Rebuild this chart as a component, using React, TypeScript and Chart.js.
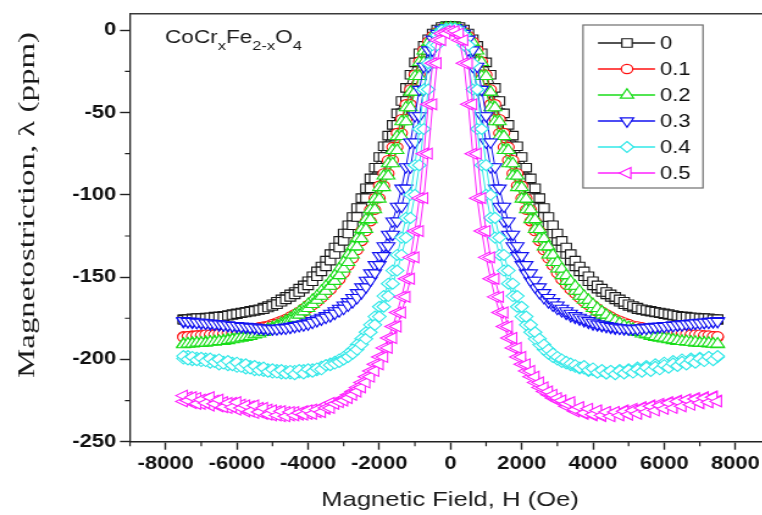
import React, { useEffect, useRef } from 'react';
import { Chart, registerables } from 'chart.js';

Chart.register(...registerables);

// ---------------- data ----------------
// applied field H (Oe), ascending
const H = [
  -7500, -7375, -7250, -7125, -7000, -6875, -6750, -6625, -6500, -6375, -6250, -6125, -6000, -5875, -5750, -5625,
  -5500, -5375, -5250, -5125, -5000, -4875, -4750, -4625, -4500, -4375, -4250, -4125, -4000, -3875, -3750, -3625,
  -3500, -3375, -3250, -3125, -3000, -2875, -2750, -2625, -2500, -2375, -2250, -2125, -2000, -1875, -1750, -1625,
  -1500, -1375, -1250, -1125, -1000, -875, -750, -625, -500, -375, -250, -125, 0,
  125, 250, 375, 500, 625, 750, 875, 1000, 1125, 1250, 1375, 1500, 1625, 1750, 1875, 2000,
  2125, 2250, 2375, 2500, 2625, 2750, 2875, 3000, 3125, 3250, 3375, 3500, 3625, 3750, 3875, 4000,
  4125, 4250, 4375, 4500, 4625, 4750, 4875, 5000, 5125, 5250, 5375, 5500, 5625, 5750, 5875, 6000,
  6125, 6250, 6375, 6500, 6625, 6750, 6875, 7000, 7125, 7250, 7375, 7500,
];

const seriesLabels = ['0', '0.1', '0.2', '0.3', '0.4', '0.5'];

// "Up" = branch measured with increasing H, "Down" = decreasing H; both listed for H ascending.
const s0Up = [
  -176, -175.5, -175.5, -175, -175, -175, -174.5, -174.5, -174, -174, -173.5, -173, -172.5, -172, -171.5, -171, -170.5, -170, -169.5, -168.5,
  -167.5, -166.5, -165, -163.5, -162, -160.5, -159, -157, -155, -152.5, -149.5, -146.5, -143.5, -140, -136, -132, -128, -123.5, -118.5, -113.5,
  -108, -102, -96, -90, -83.5, -77, -70.5, -64, -57.5, -50.5, -43, -35, -27, -19.5, -14, -9.5, -5.5, -2, 0.5, 2, 2.5,
  2.5, 2, 0.5, -2, -5.5, -9.5, -14, -19.5, -27, -35, -43, -50.5, -57.5, -64, -70.5, -77, -83.5, -90, -96, -102,
  -108, -113.5, -118.5, -123.5, -128, -132, -136, -140, -143.5, -146.5, -149.5, -152.5, -155, -157, -159, -160.5, -162, -163.5, -165, -166.5,
  -167.5, -168.5, -169.5, -170, -170.5, -171, -171.5, -172, -172.5, -173, -173.5, -174, -174, -174.5, -174.5, -175, -175, -175, -175.5, -175.5,
];
const s0Down = [
  -175.5, -175.5, -175, -175, -175, -174.5, -174.5, -174, -174, -173.5, -173, -172.5, -172, -171.5, -171, -170.5, -170, -169.5, -168.5, -167.5,
  -166.5, -165, -163.5, -162, -160.5, -159, -157, -155, -152.5, -149.5, -146.5, -143.5, -140, -136, -132, -128, -123.5, -118.5, -113.5, -108,
  -102, -96, -90, -83.5, -77, -70.5, -64, -57.5, -50.5, -43, -35, -27, -19.5, -14, -9.5, -5.5, -2, 0.5, 2, 2.5,
  2.5, 2, 0.5, -2, -5.5, -9.5, -14, -19.5, -27, -35, -43, -50.5, -57.5, -64, -70.5, -77, -83.5, -90, -96, -102,
  -108, -113.5, -118.5, -123.5, -128, -132, -136, -140, -143.5, -146.5, -149.5, -152.5, -155, -157, -159, -160.5, -162, -163.5, -165, -166.5,
  -167.5, -168.5, -169.5, -170, -170.5, -171, -171.5, -172, -172.5, -173, -173.5, -174, -174, -174.5, -174.5, -175, -175, -175, -175.5, -175.5, -176,
];

const s1Up = [
  -186.5, -186, -186, -185.5, -185.5, -185, -185, -185, -184.5, -184.5, -184,
  -184, -183.5, -183, -182.5, -182, -181.5, -181, -180.5, -180, -179.5,
  -178.5, -177.5, -176.5, -175.5, -174, -172.5, -171, -169, -167, -165,
  -162.5, -160, -157.5, -154.5, -151.5, -147.5, -143, -138.5, -133.5, -128,
  -122, -116, -109, -102, -94.5, -87, -79, -71, -62.5, -54,
  -45, -36, -27, -19, -12, -7, -3.5, -1, 1, 1.5,
  1.5, 1, -1, -3.5, -7, -12, -19, -27, -36, -45,
  -54, -62.5, -71, -79, -87, -94.5, -102, -109, -116, -122,
  -128, -133.5, -138.5, -143, -147.5, -151.5, -154.5, -157.5, -160, -162.5,
  -165, -167, -169, -171, -172.5, -174, -175.5, -176.5, -177.5, -178.5,
  -179.5, -180, -180.5, -181, -181.5, -182, -182.5, -183, -183.5, -184,
  -184, -184.5, -184.5, -185, -185, -185, -185.5, -185.5, -186, -186,
];
const s1Down = [
  -186, -186, -185.5, -185.5, -185, -185, -185, -184.5, -184.5, -184,
  -184, -183.5, -183, -182.5, -182, -181.5, -181, -180.5, -180, -179.5,
  -178.5, -177.5, -176.5, -175.5, -174, -172.5, -171, -169, -167, -165,
  -162.5, -160, -157.5, -154.5, -151.5, -147.5, -143, -138.5, -133.5, -128,
  -122, -116, -109, -102, -94.5, -87, -79, -71, -62.5, -54,
  -45, -36, -27, -19, -12, -7, -3.5, -1, 1, 1.5,
  1.5, 1, -1, -3.5, -7, -12, -19, -27, -36, -45,
  -54, -62.5, -71, -79, -87, -94.5, -102, -109, -116, -122,
  -128, -133.5, -138.5, -143, -147.5, -151.5, -154.5, -157.5, -160, -162.5,
  -165, -167, -169, -171, -172.5, -174, -175.5, -176.5, -177.5, -178.5,
  -179.5, -180, -180.5, -181, -181.5, -182, -182.5, -183, -183.5, -184,
  -184, -184.5, -184.5, -185, -185, -185, -185.5, -185.5, -186, -186, -186.5,
];

const s2Up = [
  -191, -190.5, -190.5, -190, -190, -190, -189.5, -189.5, -189, -189, -188.5, -188, -187.5, -187, -186.5, -186, -185, -184.5, -183.5, -182.5,
  -181.5, -180.5, -179.5, -178, -176.5, -175, -173, -171, -169, -166.5, -164, -161.5, -158.5, -155.5, -152.5, -149, -145, -141, -136.5, -131.5,
  -126.5, -121, -115, -109, -102.5, -95.5, -88.5, -81, -73, -64.5, -55.5, -47, -37.5, -28, -19.5, -12.5, -7.5, -3.5, -1, 1, 1.5,
  1.5, 1, -1, -3.5, -7.5, -12.5, -19.5, -28, -37.5, -47, -55.5, -64.5, -73, -81, -88.5, -95.5, -102.5, -109, -115, -121,
  -126.5, -131.5, -136.5, -141, -145, -149, -152.5, -155.5, -158.5, -161.5, -164, -166.5, -169, -171, -173, -175, -176.5, -178, -179.5, -180.5,
  -181.5, -182.5, -183.5, -184.5, -185, -186, -186.5, -187, -187.5, -188, -188.5, -189, -189, -189.5, -189.5, -190, -190, -190, -190.5, -190.5,
];
const s2Down = [
  -190.5, -190.5, -190, -190, -190, -189.5, -189.5, -189, -189, -188.5, -188, -187.5, -187, -186.5, -186, -185, -184.5, -183.5, -182.5, -181.5,
  -180.5, -179.5, -178, -176.5, -175, -173, -171, -169, -166.5, -164, -161.5, -158.5, -155.5, -152.5, -149, -145, -141, -136.5, -131.5, -126.5,
  -121, -115, -109, -102.5, -95.5, -88.5, -81, -73, -64.5, -55.5, -47, -37.5, -28, -19.5, -12.5, -7.5, -3.5, -1, 1, 1.5,
  1.5, 1, -1, -3.5, -7.5, -12.5, -19.5, -28, -37.5, -47, -55.5, -64.5, -73, -81, -88.5, -95.5, -102.5, -109, -115, -121,
  -126.5, -131.5, -136.5, -141, -145, -149, -152.5, -155.5, -158.5, -161.5, -164, -166.5, -169, -171, -173, -175, -176.5, -178, -179.5, -180.5,
  -181.5, -182.5, -183.5, -184.5, -185, -186, -186.5, -187, -187.5, -188, -188.5, -189, -189, -189.5, -189.5, -190, -190, -190, -190.5, -190.5, -191,
];

const s3Up = [
  -176.5, -177, -177, -177.5, -177.5, -178, -178, -178.5, -178.5, -179, -179,
  -179.5, -179.5, -180, -180, -180.5, -180.5, -181, -181, -181.5, -181.5,
  -181.5, -181, -181, -180.5, -180, -179.5, -179, -178.5, -177.5, -176.5,
  -175.5, -174.5, -173.5, -172, -170.5, -169, -167, -165, -162.5, -159.5,
  -156, -152, -147.5, -142.5, -137, -131, -124, -116, -107, -96,
  -83, -68, -52, -36, -22, -12, -5.5, -2, 0.5, 1.5,
  1.5, 0.5, -2, -5.5, -12, -22, -36, -52, -68, -83,
  -96, -107, -116, -124, -131, -137, -142.5, -147.5, -152, -156,
  -159.5, -162.5, -165, -167, -169, -170.5, -172, -173.5, -174.5, -175.5,
  -176.5, -177.5, -178.5, -179, -179.5, -180, -180.5, -181, -181, -181.5,
  -181.5, -181.5, -181, -181, -180.5, -180.5, -180, -180, -179.5, -179.5,
  -179, -179, -178.5, -178.5, -178, -178, -177.5, -177.5, -177, -177,
];
const s3Down = [
  -177, -177, -177.5, -177.5, -178, -178, -178.5, -178.5, -179, -179,
  -179.5, -179.5, -180, -180, -180.5, -180.5, -181, -181, -181.5, -181.5,
  -181.5, -181, -181, -180.5, -180, -179.5, -179, -178.5, -177.5, -176.5,
  -175.5, -174.5, -173.5, -172, -170.5, -169, -167, -165, -162.5, -159.5,
  -156, -152, -147.5, -142.5, -137, -131, -124, -116, -107, -96,
  -83, -68, -52, -36, -22, -12, -5.5, -2, 0.5, 1.5,
  1.5, 0.5, -2, -5.5, -12, -22, -36, -52, -68, -83,
  -96, -107, -116, -124, -131, -137, -142.5, -147.5, -152, -156,
  -159.5, -162.5, -165, -167, -169, -170.5, -172, -173.5, -174.5, -175.5,
  -176.5, -177.5, -178.5, -179, -179.5, -180, -180.5, -181, -181, -181.5,
  -181.5, -181.5, -181, -181, -180.5, -180.5, -180, -180, -179.5, -179.5,
  -179, -179, -178.5, -178.5, -178, -178, -177.5, -177.5, -177, -177, -176.5,
];

const s4Up = [
  -198, -200, -198.5, -200.5, -199, -201, -199.5, -201.5, -200, -202.5, -201, -203.5, -202, -204.5, -203, -205.5, -204, -206.5, -205, -207.5,
  -206, -208, -206.5, -208.5, -207, -209, -206.5, -208.5, -206, -207.5, -205.5, -206, -203.5,
  -203.5, -202.5, -201.5, -200, -198.5, -196.5, -194, -191, -187.5, -183.5, -179, -174, -168, -161.5, -154, -146, -136.5, -126, -114, -100,
  -82, -60, -36, -20, -9, -3, 0, 1,
  1, 0, -3, -9, -20, -36, -60, -82, -100, -114, -126, -136.5, -146, -154, -161.5, -168, -174, -179, -183.5, -187.5,
  -191, -194, -196.5, -198.5, -200, -201.5, -202.5, -203.5,
  -205, -204, -206.5, -205.5, -208, -206.5, -208.5, -207, -209, -207, -208.5, -206.5, -208, -206, -207.5, -205, -207, -204.5, -206, -203.5,
  -205, -202.5, -204, -201.5, -203, -200.5, -202, -199.5, -201, -198.5, -200.5, -198,
];
const s4Down = [
  -199.5, -198, -200.5, -199, -201, -199.5, -202, -200.5, -203, -201.5, -203.5, -202, -204.5, -203, -205.5, -204, -206.5, -205, -207, -206,
  -208, -206.5, -208.5, -207, -208.5, -207, -208, -206.5, -207.5, -206, -206.5, -204.5,
  -203.5, -202.5, -201.5, -200, -198.5, -196.5, -194, -191, -187.5, -183.5, -179, -174, -168, -161.5, -154, -146, -136.5, -126, -114, -100,
  -82, -60, -36, -20, -9, -3, 0, 1,
  1, 0, -3, -9, -20, -36, -60, -82, -100, -114, -126, -136.5, -146, -154, -161.5, -168, -174, -179, -183.5, -187.5,
  -191, -194, -196.5, -198.5, -200, -201.5, -202.5, -203.5,
  -204.5, -205.5, -205.5, -207, -206.5, -208, -207, -208.5, -207, -208.5, -206.5, -208, -206, -207.5, -205, -206.5, -204, -206, -203, -205,
  -202, -204, -201, -203, -200, -202, -199.5, -201, -199, -200.5, -198.5, -200, -198.5,
];

const s5Up = [
  -222, -225, -223, -227, -224.5, -226.5, -223, -227, -224.5, -229, -226.5, -229, -226, -229.5, -228, -231.5, -228, -232, -229.5, -233.5,
  -231, -234, -231.5, -234.5, -232, -234, -232.5, -233.5, -231, -233, -230.5, -232, -229.5, -229.5, -227, -226,
  -225, -223.5, -221.5, -219.5, -217, -214, -210.5, -207, -203, -198.5, -193, -187, -180, -171.5, -162, -151, -138, -122, -102, -75,
  -45, -20, -6, -2, -0.5,
  -0.5, -2, -6, -20, -45, -75, -102, -122, -138, -151, -162, -171.5, -180, -187, -193, -198.5, -203, -207, -210.5, -214,
  -217, -219.5, -221.5, -223.5, -225,
  -227, -226, -230.5, -229, -232.5, -230, -233.5, -231, -234, -232, -234.5, -232, -234, -231.5, -233.5, -231, -233, -229.5, -232, -228.5,
  -231, -228, -230, -226.5, -229.5, -225.5, -228.5, -224.5, -227.5, -224, -226.5, -223.5, -226, -223, -225.5,
];
const s5Down = [
  -225.5, -223, -226.5, -223.5, -227, -224, -228, -225, -228.5, -226, -229.5, -226.5, -230.5, -227.5, -231.5, -228.5, -232.5, -229.5, -233, -230.5,
  -234, -231.5, -234.5, -232, -234, -232, -233.5, -231.5, -233, -230.5, -232, -229, -230, -226.5, -226.5,
  -225, -223.5, -221.5, -219.5, -217, -214, -210.5, -207, -203, -198.5, -193, -187, -180, -171.5, -162, -151, -138, -122, -102, -75,
  -45, -20, -6, -2, -0.5,
  -0.5, -2, -6, -20, -45, -75, -102, -122, -138, -151, -162, -171.5, -180, -187, -193, -198.5, -203, -207, -210.5, -214,
  -217, -219.5, -221.5, -223.5, -225,
  -225, -228.5, -228, -231.5, -229.5, -233, -231, -234, -231.5, -234.5, -232, -234, -232, -233.5, -231, -233.5, -230, -232.5, -229, -231.5,
  -228, -230.5, -227, -229.5, -226, -228.5, -225, -227.5, -224.5, -227, -223.5, -226.5, -223, -226, -222.5, -225,
];

const upBranches = [s0Up, s1Up, s2Up, s3Up, s4Up, s5Up];
const downBranches = [s0Down, s1Down, s2Down, s3Down, s4Down, s5Down];

const xTicks = [-8000, -6000, -4000, -2000, 0, 2000, 4000, 6000, 8000];
const xMinorTicks = [-9000, -7000, -5000, -3000, -1000, 1000, 3000, 5000, 7000, 9000];
const yTicks = [-250, -200, -150, -100, -50, 0];
const yMinorTicks = [-225, -175, -125, -75, -25];

const xTitle = 'Magnetic Field, H (Oe)';
const yTitle = 'Magnetostriction, \u03bb (ppm)';

// ---------------- styles ----------------
const SX = 1.22; // horizontal stretch of the reference picture
const LOGICAL_W = 650;
const colors = ['#1a1a1a', '#ff1010', '#18dd18', '#1010f0', '#30e8e8', '#ff20ff'];
const pStyles = ['rect', 'circle', 'triangle', 'triangle', 'rectRot', 'triangle'];
const pRot = [0, 0, 0, 180, 0, -90];
const pRad = [6, 4.7, 6.3, 6.3, 5.5, 6.3];
const SANS = '"Liberation Sans", Arial, sans-serif';
const SERIF = '"Liberation Serif", "Times New Roman", serif';

function drawMarker(ctx: CanvasRenderingContext2D, style: string, x: number, y: number, r: number, rotDeg: number) {
  let a = (rotDeg * Math.PI) / 180;
  ctx.beginPath();
  if (style === 'circle') {
    ctx.arc(x, y, r, 0, Math.PI * 2);
  } else if (style === 'rect') {
    const s = r * Math.SQRT1_2;
    ctx.rect(x - s, y - s, 2 * s, 2 * s);
  } else if (style === 'rectRot') {
    ctx.moveTo(x, y - r);
    ctx.lineTo(x + r, y);
    ctx.lineTo(x, y + r);
    ctx.lineTo(x - r, y);
    ctx.closePath();
  } else {
    ctx.moveTo(x + Math.sin(a) * r, y - Math.cos(a) * r);
    a += (2 * Math.PI) / 3;
    ctx.lineTo(x + Math.sin(a) * r, y - Math.cos(a) * r);
    a += (2 * Math.PI) / 3;
    ctx.lineTo(x + Math.sin(a) * r, y - Math.cos(a) * r);
    ctx.closePath();
  }
  ctx.fill();
  ctx.stroke();
}

const decorPlugin = {
  id: 'decor',
  afterDraw(chart: any) {
    const ctx: CanvasRenderingContext2D = chart.ctx;
    const { left, right, top, bottom } = chart.chartArea;
    const xs = chart.scales.x;
    const ys = chart.scales.y;
    ctx.save();

    // frame (top + right)
    ctx.strokeStyle = '#3a3a3a';
    ctx.lineWidth = 1.6;
    ctx.beginPath();
    ctx.moveTo(left, top);
    ctx.lineTo(right, top);
    ctx.lineTo(right, bottom);
    ctx.stroke();

    // minor ticks
    ctx.strokeStyle = '#222';
    ctx.lineWidth = 1.2;
    ctx.beginPath();
    for (const v of xMinorTicks) {
      const px = xs.getPixelForValue(v);
      ctx.moveTo(px, bottom);
      ctx.lineTo(px, bottom + 4.5);
    }
    for (const v of yMinorTicks) {
      const py = ys.getPixelForValue(v);
      ctx.moveTo(left - 4.2, py);
      ctx.lineTo(left, py);
    }
    ctx.stroke();

    // axis titles
    ctx.fillStyle = '#1a1a1a';
    ctx.font = `21px ${SANS}`;
    ctx.textAlign = 'center';
    ctx.textBaseline = 'alphabetic';
    ctx.fillText(xTitle, 450 / SX, 506);

    ctx.save();
    ctx.translate(28 / SX, 205);
    ctx.rotate(-Math.PI / 2);
    ctx.font = `18.5px ${SERIF}`;
    const w = ctx.measureText(yTitle).width;
    ctx.scale(346 / w, 1);
    ctx.textAlign = 'center';
    ctx.textBaseline = 'middle';
    ctx.fillText(yTitle, 0, 0);
    ctx.restore();

    // formula CoCr_xFe_(2-x)O_4
    const parts: [string, boolean][] = [['CoCr', false], ['x', true], ['Fe', false], ['2-x', true], ['O', false], ['4', true]];
    let fx = 165 / SX;
    ctx.textAlign = 'left';
    ctx.textBaseline = 'alphabetic';
    for (const [t, sub] of parts) {
      ctx.font = sub ? `13.5px ${SANS}` : `18.5px ${SANS}`;
      ctx.fillText(t, fx, sub ? 49.5 : 42.5);
      fx += ctx.measureText(t).width;
    }

    // legend
    const bx = 583 / SX, by = 25, bw = 120 / SX, bh = 163;
    ctx.fillStyle = '#fff';
    ctx.fillRect(bx, by, bw, bh);
    ctx.strokeStyle = '#6e6e6e';
    ctx.lineWidth = 1.2;
    ctx.strokeRect(bx, by, bw, bh);
    seriesLabels.forEach((lab, i) => {
      const ly = 43 + i * 26;
      ctx.strokeStyle = colors[i];
      ctx.lineWidth = 1.3;
      ctx.beginPath();
      ctx.moveTo(598 / SX, ly);
      ctx.lineTo(655 / SX, ly);
      ctx.stroke();
      ctx.fillStyle = '#fff';
      ctx.lineWidth = 1.2;
      drawMarker(ctx, pStyles[i], 627 / SX, ly, pRad[i], pRot[i]);
      ctx.fillStyle = '#111';
      ctx.font = `18px ${SANS}`;
      ctx.textAlign = 'left';
      ctx.textBaseline = 'middle';
      ctx.fillText(lab, 660 / SX, ly + 1);
    });

    ctx.restore();
  },
};

export default function App() {
  const ref = useRef<HTMLCanvasElement>(null);
  useEffect(() => {
    const datasets = seriesLabels.map((lab, i) => {
      const down = H.map((h, j) => ({ x: h, y: downBranches[i][j] })).reverse();
      const up = H.map((h, j) => ({ x: h, y: upBranches[i][j] }));
      return {
        label: lab,
        data: [...down, ...up],
        showLine: true,
        borderColor: colors[i],
        borderWidth: 1,
        pointStyle: pStyles[i],
        pointRotation: pRot[i],
        pointRadius: pRad[i],
        pointBorderWidth: 1.1,
        pointBorderColor: colors[i],
        pointBackgroundColor: '#ffffff',
        order: 5 - i,
      };
    });

    const chart = new Chart(ref.current as HTMLCanvasElement, {
      type: 'scatter',
      data: { datasets } as any,
      options: {
        animation: false,
        responsive: true,
        maintainAspectRatio: false,
        devicePixelRatio: 1,
        events: [],
        layout: { padding: { top: 9.4, right: LOGICAL_W - 771 / SX, left: 0, bottom: 0 } },
        plugins: { legend: { display: false }, tooltip: { enabled: false }, title: { display: false } },
        scales: {
          x: {
            type: 'linear',
            min: -9000,
            max: 9000,
            afterBuildTicks: (axis: any) => {
              axis.ticks = xTicks.map((v) => ({ value: v }));
            },
            afterFit: (axis: any) => {
              axis.height = 515 - 441.7;
            },
            ticks: {
              autoSkip: false,
              maxRotation: 0,
              padding: 4,
              color: '#111',
              font: { family: SANS, size: 18, weight: 'bold' },
              callback: (v: any) => String(v),
            },
            grid: { drawOnChartArea: false, drawTicks: true, tickLength: 8, tickColor: '#222', tickWidth: 1.4 },
            border: { display: true, color: '#222', width: 1.6 },
          },
          y: {
            type: 'linear',
            min: -250,
            max: 10,
            afterBuildTicks: (axis: any) => {
              axis.ticks = yTicks.map((v) => ({ value: v }));
            },
            afterFit: (axis: any) => {
              axis.width = 130 / SX;
            },
            ticks: {
              padding: 3,
              color: '#111',
              font: { family: SANS, size: 18, weight: 'bold' },
              callback: (v: any) => String(v),
            },
            grid: { drawOnChartArea: false, drawTicks: true, tickLength: 8.2, tickColor: '#222', tickWidth: 1.4 },
            border: { display: true, color: '#222', width: 1.3 },
          },
        },
      } as any,
      plugins: [decorPlugin],
    });
    return () => chart.destroy();
  }, []);

  return (
    <div style={{ position: 'absolute', left: 0, top: 0, width: 762, height: 515, overflow: 'hidden', background: '#fff' }}>
      <div
        style={{
          position: 'absolute',
          left: 0,
          top: 0,
          width: LOGICAL_W,
          height: 515,
          transform: `scaleX(${SX})`,
          transformOrigin: '0 0',
        }}
      >
        <canvas ref={ref} />
      </div>
    </div>
  );
}
